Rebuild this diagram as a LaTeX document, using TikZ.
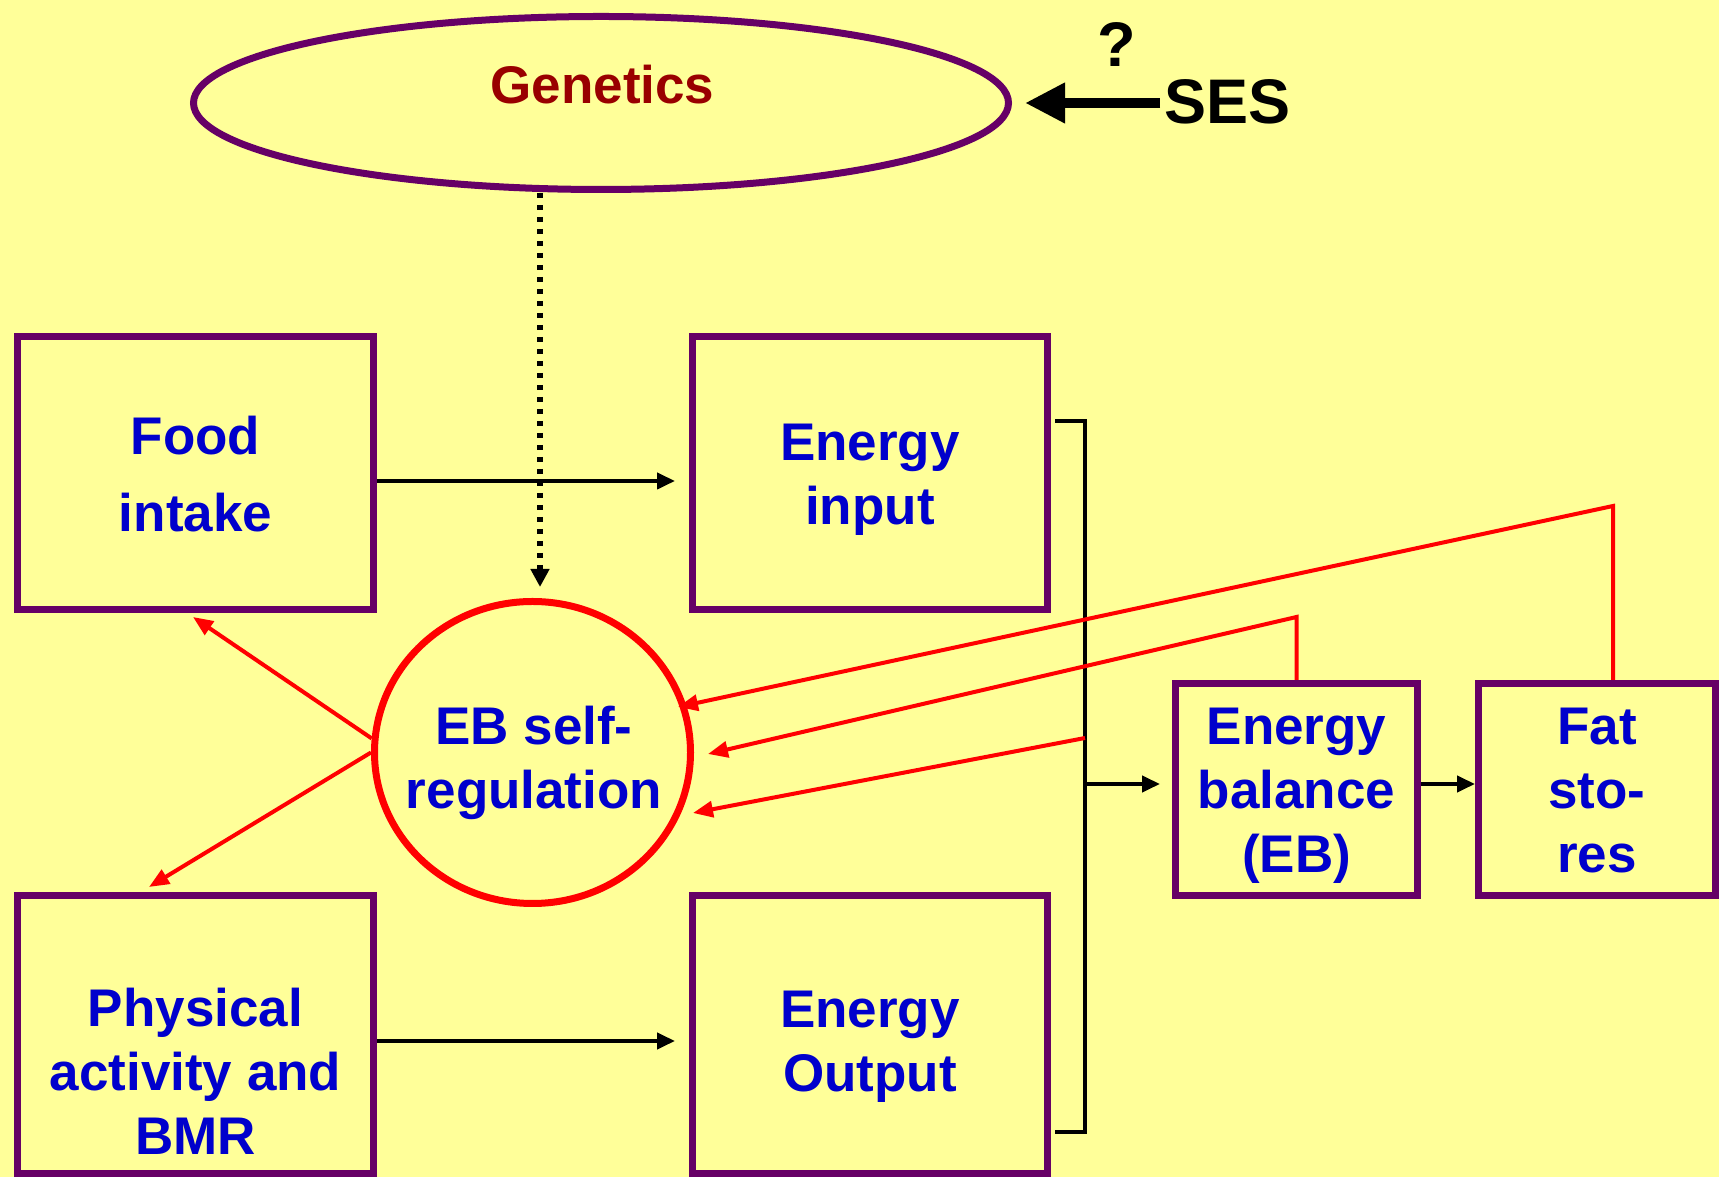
\documentclass[tikz,border=0pt]{standalone}
\usepackage{fontspec}
\setmainfont{Liberation Sans}
\usetikzlibrary{arrows.meta,shapes.geometric}
\definecolor{bgy}{HTML}{FFFF99}
\definecolor{purp}{HTML}{660066}
\definecolor{blu}{HTML}{0000CC}
\definecolor{dred}{HTML}{990000}
\begin{document}
\begin{tikzpicture}[x=1pt,y=1pt,
  box/.style={draw=purp, line width=7pt, rectangle, inner sep=0pt, outer sep=3.5pt},
  txt/.style={text=blu, font=\bfseries\fontsize{53}{64}\selectfont, align=center, anchor=base, inner sep=0pt},
  blk/.style={draw=black, line width=4pt, -{Triangle[length=18pt,width=16pt]}},
  redarr/.style={draw=red, line width=4pt, -{Triangle[length=20pt,width=16pt]}},
]
\fill[bgy] (0,0) rectangle (1719,1177);
\useasboundingbox (0,0) rectangle (1719,1177);

% shapes
\node[box, minimum width=356pt, minimum height=273pt] (fi) at (195.5,704) {};
\node[box, minimum width=355pt, minimum height=273pt] (ei) at (870,704) {};
\node[box, minimum width=356pt, minimum height=278pt] (pa) at (195.5,142.5) {};
\node[box, minimum width=355pt, minimum height=278pt] (eo) at (870,142.5) {};
\node[box, minimum width=242pt, minimum height=212pt] (eb) at (1296.5,387.5) {};
\node[box, minimum width=237pt, minimum height=212pt] (fs) at (1597,387.5) {};
\node[draw=purp, line width=7pt, ellipse, minimum width=815pt, minimum height=173pt, inner sep=0pt, outer sep=3.5pt] (gen) at (601,1074) {};
\node[draw=red, line width=7pt, ellipse, minimum width=316pt, minimum height=302pt, inner sep=0pt, outer sep=3.5pt] (circ) at (532.5,424.5) {};

% texts (anchor base = baseline of last line)
\node[text=dred, font=\bfseries\fontsize{53}{64}\selectfont, anchor=base, inner sep=0pt] (genT) at (602.5,1073) {Genetics};
\node[font=\bfseries\fontsize{63}{70}\selectfont, anchor=base west, inner sep=0pt] (ses) at (1164,1053) {SES};
\node[font=\bfseries\fontsize{63}{70}\selectfont, anchor=base, inner sep=0pt] (q) at (1117,1110) {?};
\node[txt, font=\bfseries\fontsize{53}{77}\selectfont] (fiT) at (195.5,645) {Food\\intake};
\node[txt] (eiT) at (870,652) {Energy\\input};
\node[txt] (paT) at (195.5,22) {Physical\\activity and\\BMR};
\node[txt] (eoT) at (870,85) {Energy\\Output};
\node[txt] (ebT) at (1296.5,304) {Energy\\balance\\(EB)};
\node[txt] (fsT) at (1597,304) {Fat\\sto-\\res};
\node[txt] (circT) at (534,368) {EB self-\\regulation};

% SES arrow
\draw[line width=10pt, -{Triangle[length=40pt,width=38pt]}, shorten <=4pt, shorten >=13pt] (ses.west |- gen.east) -- (gen.east);

% black connectors
\draw[blk] ([yshift=-8pt]fi.east) -- ([yshift=-8pt,xshift=-14pt]ei.west);
\draw[blk] ([yshift=-6.5pt]pa.east) -- ([yshift=-6.5pt,xshift=-14pt]eo.west);
\coordinate (bt) at (1085,756);
\coordinate (bb) at (1085,45);
\coordinate (bm) at (1085,393);
\coordinate (br) at (1085,439);
\draw[line width=4.5pt, shorten <=4pt, shorten >=4pt] (bt -| ei.east) -- (bt) -- (bb) -- (bb -| eo.east);
\draw[blk, shorten >=12pt] (bm) -- (bm -| eb.west);
\draw[blk] (eb.east |- bm) -- (fs.west |- bm);

% dotted genetics arrow
\coordinate (dx) at ([xshift=7.5pt]circ.north);
\draw[line width=5.5pt, dash pattern=on 5.5pt off 6.5pt, -{Triangle[length=18pt,width=18pt]}, shorten >=11pt] (dx |- gen.south) -- (dx);

% red connectors
\draw[redarr] (circ.175) -- ([xshift=-2.5pt,yshift=-4pt]fi.south);
\draw[redarr] (circ.west) -- ([xshift=-46.5pt,yshift=5pt]pa.north);
\coordinate (k1) at (1613,671);
\coordinate (t1) at (678,470);
\draw[redarr] (fs.north -| k1) -- (k1) -- (t1);
\coordinate (k2) at (1296.5,560);
\coordinate (t2) at (708,423);
\draw[redarr] (eb.north) -- (k2) -- (t2);
\coordinate (t3) at (693,364);
\draw[redarr] (br) -- (t3);
\end{tikzpicture}
\end{document}
